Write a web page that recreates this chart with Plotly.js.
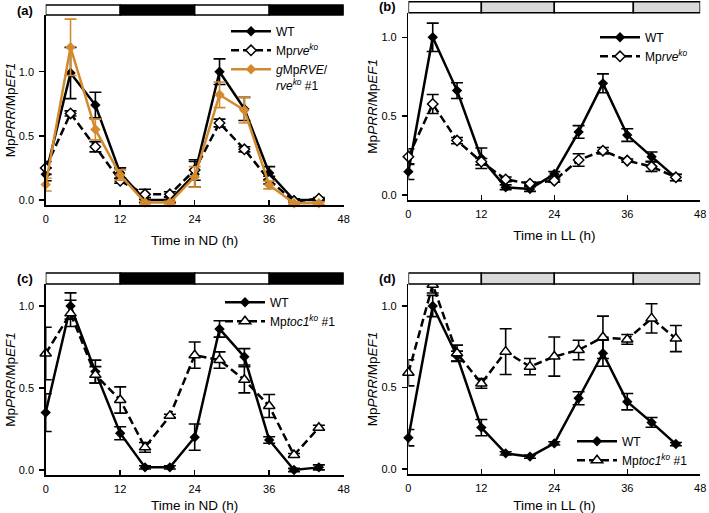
<!DOCTYPE html>
<html>
<head>
<meta charset="utf-8">
<script src="https://cdn.plot.ly/plotly-3.0.1.min.js"></script>
<style>html,body{margin:0;padding:0;background:#fff;}#chart{width:709px;height:513px;}</style>
</head>
<body>
<div id="chart"></div>
<script>
// ---------- data ----------
const hours = [0, 4, 8, 12, 16, 20, 24, 28, 32, 36, 40, 44];
const xTicks = [0, 12, 24, 36, 48];
const yTicks = [0, 0.5, 1.0];

// light/dark regimes for the top bars: [start, end, kind]
const ndPeriods = [[0, 12, 'light'], [12, 24, 'dark'], [24, 36, 'light'], [36, 48, 'dark']];
const llPeriods = [[0, 12, 'light'], [12, 24, 'subjdark'], [24, 37, 'light'], [37, 48, 'subjdark']];

// (a) ND, rve
const aWT     = [0.20, 0.99, 0.74, 0.21, 0.00, 0.00, 0.20, 1.00, 0.71, 0.21, 0.00, 0.00];
const aWTerr  = [0.05, 0.20, 0.10, 0.04, 0.02, 0.02, 0.10, 0.10, 0.09, 0.05, 0.01, 0.01];
const aRve    = [0.25, 0.675, 0.415, 0.15, 0.044, 0.044, 0.234, 0.60, 0.395, 0.155, -0.01, 0.01];
const aRveErr = [0.05, 0.02, 0.04, 0.02, 0.04, 0.02, 0.08, 0.03, 0.02, 0.03, 0.01, 0.01];
const aComp   = [0.12, 1.19, 0.55, 0.195, -0.02, -0.02, 0.18, 0.82, 0.70, 0.117, -0.025, -0.025];
const aCompErr= [0.05, 0.22, 0.08, 0.04, 0.01, 0.01, 0.08, 0.10, 0.10, 0.03, 0.01, 0.01];

// (b) LL, rve
const bWT     = [0.148, 1.00, 0.662, 0.233, 0.049, 0.038, 0.133, 0.40, 0.708, 0.38, 0.243, 0.11];
const bWTerr  = [0.05, 0.09, 0.05, 0.065, 0.015, 0.015, 0.015, 0.04, 0.06, 0.04, 0.03, 0.02];
const bRve    = [0.243, 0.577, 0.345, 0.211, 0.099, 0.072, 0.091, 0.222, 0.281, 0.218, 0.18, 0.112];
const bRveErr = [0.05, 0.06, 0.02, 0.02, 0.015, 0.01, 0.01, 0.04, 0.02, 0.01, 0.03, 0.02];

// (c) ND, toc1
const cWT     = [0.35, 1.00, 0.60, 0.224, 0.016, 0.016, 0.20, 0.86, 0.69, 0.183, 0.00, 0.016];
const cWTerr  = [0.115, 0.08, 0.07, 0.04, 0.01, 0.01, 0.08, 0.05, 0.05, 0.02, 0.01, 0.015];
const cToc    = [0.71, 0.955, 0.58, 0.427, 0.138, 0.33, 0.70, 0.67, 0.55, 0.39, 0.091, 0.258];
const cTocErr = [0.16, 0.08, 0.05, 0.08, 0.03, 0.01, 0.08, 0.05, 0.08, 0.07, 0.01, 0.015];

// (d) LL, toc1
const dWT     = [0.192, 1.00, 0.693, 0.254, 0.096, 0.076, 0.157, 0.434, 0.71, 0.413, 0.286, 0.153];
const dWTerr  = [0.05, 0.065, 0.03, 0.05, 0.01, 0.01, 0.01, 0.04, 0.08, 0.05, 0.03, 0.01];
const dToc    = [0.59, 1.13, 0.71, 0.525, 0.72, 0.628, 0.69, 0.73, 0.808, 0.795, 0.924, 0.80];
const dTocErr = [0.08, 0.05, 0.05, 0.03, 0.14, 0.05, 0.12, 0.06, 0.13, 0.03, 0.09, 0.08];

const nameWT = 'WT';
const nameRve = 'Mp<i>rve</i><sup><i>ko</i></sup>';
const nameComp = '<i>g</i>Mp<i>RVE</i>/<br><i>rve</i><sup><i>ko</i></sup> #1';
const nameToc = 'Mp<i>toc1</i><sup><i>ko</i></sup> #1';
const yTitle = 'Mp<i>PRR</i>/Mp<i>EF1</i>';
const xTitleND = 'Time in ND (h)';
const xTitleLL = 'Time in LL (h)';
const panelLabels = ['(a)', '(b)', '(c)', '(d)'];

// ---------- styling ----------
const W = 709, H = 513;
const FONT = 'Liberation Sans, Arial, Helvetica, sans-serif';
const ORANGE = '#D38A2E';
const px = v => v / W;
const py = v => 1 - v / H;

function series(x, y, err, name, opts) {
  const o = Object.assign({color: '#000', open: false, dash: 'solid', symbol: 'diamond', size: 8}, opts);
  return {
    type: 'scatter', mode: 'lines+markers', x: x, y: y, name: name,
    xaxis: o.xa, yaxis: o.ya, legend: o.legend, cliponaxis: false,
    line: {color: o.color, width: 2.5, dash: o.dash},
    marker: {symbol: o.symbol, size: o.size, color: o.open ? '#fff' : o.color,
             line: {color: o.color, width: o.open ? 1.5 : 0}},
    error_y: {type: 'data', array: err, visible: true, color: o.color, thickness: 1.6, width: 6}
  };
}

const traces = [
  series(hours, aWT, aWTerr, nameWT, {xa: 'x', ya: 'y', legend: 'legend'}),
  series(hours, aRve, aRveErr, nameRve, {xa: 'x', ya: 'y', legend: 'legend', open: true, dash: '8px,4px'}),
  series(hours, aComp, aCompErr, nameComp, {xa: 'x', ya: 'y', legend: 'legend', color: ORANGE}),
  series(hours, bWT, bWTerr, nameWT, {xa: 'x2', ya: 'y2', legend: 'legend2'}),
  series(hours, bRve, bRveErr, nameRve, {xa: 'x2', ya: 'y2', legend: 'legend2', open: true, dash: '8px,4px'}),
  series(hours, cWT, cWTerr, nameWT, {xa: 'x3', ya: 'y3', legend: 'legend3'}),
  series(hours, cToc, cTocErr, nameToc, {xa: 'x3', ya: 'y3', legend: 'legend3', open: true, dash: '8px,4px', symbol: 'triangle-up', size: 10}),
  series(hours, dWT, dWTerr, nameWT, {xa: 'x4', ya: 'y4', legend: 'legend4'}),
  series(hours, dToc, dTocErr, nameToc, {xa: 'x4', ya: 'y4', legend: 'legend4', open: true, dash: '8px,4px', symbol: 'triangle-up', size: 10})
];

// pixel geometry of the four panels: left, right, top, bottom, and y range
const panels = [
  {l: 45.7, r: 343.7, t: 15,  b: 205, yr: [-0.039, 1.442], barTop: 5,   periods: ndPeriods, xt: xTitleND},
  {l: 408.4, r: 700.2, t: 12.7, b: 200, yr: [-0.0317, 1.156], barTop: 1.7, periods: llPeriods, xt: xTitleLL},
  {l: 45.7, r: 343.7, t: 284, b: 475, yr: [-0.0305, 1.134], barTop: 273, periods: ndPeriods, xt: xTitleND},
  {l: 408.4, r: 700.2, t: 284, b: 474, yr: [-0.0307, 1.135], barTop: 273, periods: llPeriods, xt: xTitleLL}
];

const layout = {
  width: W, height: H, margin: {l: 0, r: 0, t: 0, b: 0},
  paper_bgcolor: '#fff', plot_bgcolor: 'rgba(0,0,0,0)',
  font: {family: FONT, color: '#000', size: 11},
  showlegend: true, shapes: [], annotations: []
};

const periodColor = {light: '#ffffff', dark: '#000000', subjdark: '#d9d9d9'};

panels.forEach((p, i) => {
  const sfx = i === 0 ? '' : String(i + 1);
  layout['xaxis' + sfx] = {
    domain: [px(p.l), px(p.r)], range: [0, 48], anchor: 'y' + sfx,
    tickvals: xTicks, ticks: 'inside', ticklen: 5, tickwidth: 1.5, tickcolor: '#000',
    showline: true, linewidth: 1.5, linecolor: '#000', showgrid: false, zeroline: false,
    tickfont: {size: 11, family: FONT}, fixedrange: true, ticklabelstandoff: 3,
    title: {text: p.xt, font: {size: 13.5, family: FONT}, standoff: 12}
  };
  layout['yaxis' + sfx] = {
    domain: [py(p.b), py(p.t)], range: p.yr, anchor: 'x' + sfx,
    tickvals: yTicks, tickformat: '.1f', ticks: 'outside', ticklen: 5, tickwidth: 1.5, tickcolor: '#000',
    showline: true, linewidth: 1.5, linecolor: '#000', showgrid: false, zeroline: false,
    tickfont: {size: 11, family: FONT}, fixedrange: true, ticklabelstandoff: 3,
    title: {text: yTitle, font: {size: 13.5, family: FONT}, standoff: 0}
  };
  // light/dark bar
  p.periods.forEach(seg => {
    layout.shapes.push({
      type: 'rect', xref: 'x' + sfx, yref: 'paper',
      x0: seg[0], x1: seg[1], y0: py(p.t), y1: py(p.barTop),
      fillcolor: periodColor[seg[2]], line: {color: '#000', width: 1.5}, layer: 'above'
    });
  });
  layout.annotations.push({
    text: '<b>' + panelLabels[i] + '</b>', xref: 'paper', yref: 'paper',
    x: px(p.l - 31), y: py(p.barTop + 5), xanchor: 'left', yanchor: 'middle',
    showarrow: false, font: {size: 13, family: FONT}
  });
});

const legBase = {bgcolor: 'rgba(0,0,0,0)', borderwidth: 0, font: {size: 12, family: FONT}, itemwidth: 40,
                 xanchor: 'left', yanchor: 'top', valign: 'top', tracegroupgap: 0, itemclick: false};
layout.legend  = Object.assign({}, legBase, {x: px(226), y: py(17)});
layout.legend2 = Object.assign({}, legBase, {x: px(595), y: py(23)});
layout.legend3 = Object.assign({}, legBase, {x: px(220), y: py(288)});
layout.legend4 = Object.assign({}, legBase, {x: px(572), y: py(427)});

Plotly.newPlot('chart', traces, layout, {displayModeBar: false, staticPlot: true});
</script>
</body>
</html>
